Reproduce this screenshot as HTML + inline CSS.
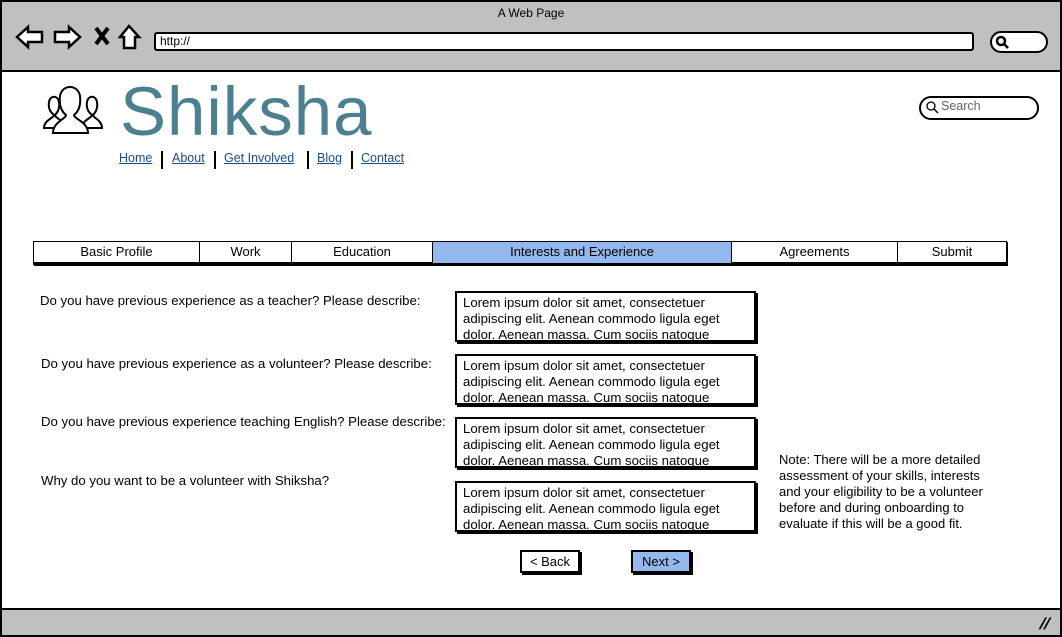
<!DOCTYPE html>
<html><head><meta charset="utf-8"><style>
*{margin:0;padding:0;box-sizing:border-box}
body{width:1062px;height:637px;position:relative;background:#fff;font-family:"Liberation Sans",sans-serif;color:#000;overflow:hidden}
.a{position:absolute}
.t{position:absolute;font-size:13.2px;white-space:nowrap}
.box{position:absolute;border:2px solid #000;background:#fff;box-shadow:2px 2px 0 #000;padding:2px 6px;font-size:13.2px;line-height:16px;overflow:hidden;white-space:nowrap}
.nav{position:absolute;top:151px;font-size:12.5px;color:#1a4a8a;text-decoration:underline}
.sep{position:absolute;top:151px;width:2px;height:18px;background:#000}
.tab{position:absolute;top:242px;height:21px;font-size:13px;line-height:20px;text-align:center;border-right:1.5px solid #000}
.btn{position:absolute;top:550px;width:60px;height:23px;border:2px solid #000;box-shadow:2px 2px 0 #000;font-size:13px;text-align:center;line-height:19px}
</style></head><body>
<div class="a" style="left:0;top:0;width:1062px;height:72px;background:#c0c0c0;border-bottom:2px solid #000"></div>
<div class="a" style="left:0;top:608px;width:1062px;height:29px;background:#c0c0c0;border-top:2px solid #000"></div>
<div class="a" style="left:0;top:0;width:1062px;height:637px;border:2.5px solid #000;border-right-width:2px"></div>
<div class="t" style="left:0;width:1062px;text-align:center;top:6px;font-size:12px">A Web Page</div>
<svg class="a" style="left:14px;top:22px" width="130" height="32" viewBox="0 0 130 32">
<path d="M3 15 L14 5 L14 10 L28 10 L28 20 L14 20 L14 25 Z" fill="#fff" stroke="#000" stroke-width="2.5"/>
<path d="M66 15 L55 5 L55 10 L41 10 L41 20 L55 20 L55 25 Z" fill="#fff" stroke="#000" stroke-width="2.5"/>
<path d="M82 6 L94 22 M94 6 L82 22" stroke="#000" stroke-width="4"/>
<path d="M106 15 L115 4 L125 15 L121 15 L121 26 L110 26 L110 15 Z" fill="#fff" stroke="#000" stroke-width="2.5"/>
</svg>
<div class="a" style="left:154px;top:32px;width:820px;height:19px;background:#fff;border:2.5px solid #000;border-radius:3px"></div>
<div class="t" style="left:160px;top:34px;font-size:12px">http://</div>
<div class="a" style="left:990px;top:31px;width:58px;height:22px;background:#fff;border:2.5px solid #000;border-radius:11px"></div>
<svg class="a" style="left:995px;top:35px" width="16" height="16"><circle cx="6" cy="6" r="4" fill="none" stroke="#000" stroke-width="2.5"/><path d="M9 9 L13 13" stroke="#000" stroke-width="2.5"/></svg>
<div class="a" style="left:1040px;top:616px;font-size:16px;font-weight:bold;transform:skewX(-20deg)">//</div>
<svg class="a" style="left:40px;top:82px" width="66" height="54" viewBox="0 0 66 54">
<g fill="#fff" stroke="#000" stroke-width="2">
<path d="M4 46 C4 38 14 36 14 33 C10 30 8 26 9 20 C10 13 18 13 19 20 C20 26 18 30 15 33 C15 36 24 38 24 46 Z"/>
<path d="M42 46 C42 38 52 36 52 33 C48 30 46 26 47 20 C48 13 56 13 57 20 C58 26 56 30 53 33 C53 36 62 38 62 46 Z"/>
<path d="M13 51 C13 40 26 37 26 33 C21 29 19 23 20 14 C22 2 38 2 40 14 C41 23 39 29 34 33 C34 37 48 40 48 51 Z"/>
</g></svg>
<div class="a" style="left:120px;top:77px;font-size:69px;line-height:1;color:#4a8090;font-family:'Liberation Sans',sans-serif;letter-spacing:1px">Shiksha</div>
<div class="nav" style="left:119px">Home</div><div class="sep" style="left:161px"></div>
<div class="nav" style="left:172px">About</div><div class="sep" style="left:214px"></div>
<div class="nav" style="left:224px">Get Involved</div><div class="sep" style="left:307px"></div>
<div class="nav" style="left:317px">Blog</div><div class="sep" style="left:351px"></div>
<div class="nav" style="left:361px">Contact</div>
<div class="a" style="left:919px;top:96px;width:120px;height:24px;border:2px solid #000;border-radius:12px"></div>
<svg class="a" style="left:925px;top:100px" width="14" height="14"><circle cx="6" cy="6" r="4" fill="none" stroke="#000" stroke-width="1.3"/><path d="M9 9 L13 13" stroke="#000" stroke-width="1.5"/></svg>
<div class="t" style="left:941px;top:99px;color:#666;font-size:12.5px">Search</div>
<div class="a" style="left:33px;top:241px;width:974px;height:24px;border:1.5px solid #000;border-bottom:3px solid #000;box-shadow:1px 1px 0 #000"></div>
<div class="a" style="left:433px;top:242px;width:299px;height:21px;background:#93b8ee"></div>
<div class="tab" style="left:34px;width:166px">Basic Profile</div>
<div class="tab" style="left:200px;width:92px">Work</div>
<div class="tab" style="left:292px;width:141px">Education</div>
<div class="tab" style="left:433px;width:299px">Interests and Experience</div>
<div class="tab" style="left:732px;width:166px">Agreements</div>
<div class="tab" style="left:898px;width:108px;border-right:none">Submit</div>
<div class="t" style="left:40px;top:293px">Do you have previous experience as a teacher? Please describe:</div>
<div class="t" style="left:41px;top:356px">Do you have previous experience as a volunteer? Please describe:</div>
<div class="t" style="left:41px;top:414px">Do you have previous experience teaching English? Please describe:</div>
<div class="t" style="left:41px;top:473px">Why do you want to be a volunteer with Shiksha?</div>
<div class="box" style="left:455px;top:291px;width:301px;height:51px">Lorem ipsum dolor sit amet, consectetuer<br>adipiscing elit. Aenean commodo ligula eget<br>dolor. Aenean massa. Cum sociis natoque</div>
<div class="box" style="left:455px;top:354px;width:301px;height:51px">Lorem ipsum dolor sit amet, consectetuer<br>adipiscing elit. Aenean commodo ligula eget<br>dolor. Aenean massa. Cum sociis natoque</div>
<div class="box" style="left:455px;top:417px;width:301px;height:51px">Lorem ipsum dolor sit amet, consectetuer<br>adipiscing elit. Aenean commodo ligula eget<br>dolor. Aenean massa. Cum sociis natoque</div>
<div class="box" style="left:455px;top:481px;width:301px;height:51px">Lorem ipsum dolor sit amet, consectetuer<br>adipiscing elit. Aenean commodo ligula eget<br>dolor. Aenean massa. Cum sociis natoque</div>
<div class="t" style="left:779px;top:452px;line-height:16px;font-size:13px">Note: There will be a more detailed<br>assessment of your skills, interests<br>and your eligibility to be a volunteer<br>before and during onboarding to<br>evaluate if this will be a good fit.</div>
<div class="btn" style="left:520px;background:#fff">&lt; Back</div>
<div class="btn" style="left:631px;background:#93b8ee">Next &gt;</div>
</body></html>
